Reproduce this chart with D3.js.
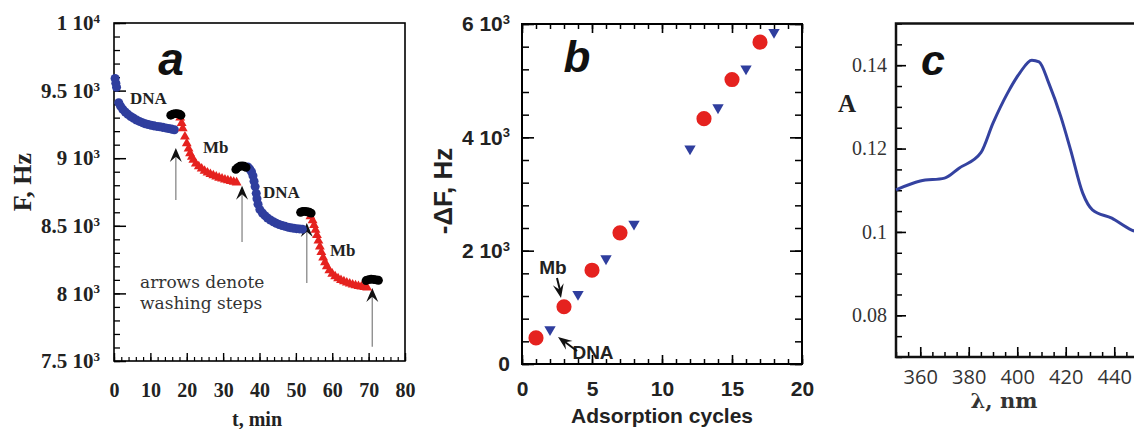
<!DOCTYPE html>
<html><head><meta charset="utf-8">
<script src="https://cdn.jsdelivr.net/npm/d3@7"></script>
<style>body{margin:0;background:#fff}svg{display:block}</style>
</head><body>
<svg id="chart" width="1134" height="429"></svg>
<script>
// ================= DATA =================
// Panel a : frequency vs time (t in min, F in Hz)
const dna1 = [[0.3,9590],[0.5,9555],[0.7,9525],[1.3,9410],[1.8,9385],[2.4,9362],[3.1,9342],[3.8,9325],[4.6,9308],[5.4,9295],[6.2,9283],[7.0,9272],[7.8,9263],[8.6,9255],[9.4,9249],[10.2,9244],[11.0,9239],[11.8,9235],[12.6,9232],[13.4,9228],[14.2,9224],[15.0,9220],[15.8,9215],[16.6,9210]];
const mb1 = [[18.2,9300],[18.6,9260],[18.9,9221],[19.5,9160],[20.0,9110],[20.5,9070],[20.9,9036],[21.4,9010],[21.8,8987],[22.5,8960],[23.3,8940],[24.1,8922],[24.9,8906],[25.7,8893],[26.5,8882],[27.3,8872],[28.1,8863],[28.9,8855],[29.7,8848],[30.5,8842],[31.3,8836],[32.1,8830],[32.9,8825],[33.7,8820]];
const dna2 = [[36.8,8935],[37.3,8920],[37.8,8900],[38.2,8870],[38.5,8830],[38.8,8790],[39.1,8740],[39.3,8700],[39.6,8660],[40.1,8620],[40.8,8595],[41.5,8575],[42.2,8558],[43.0,8543],[43.8,8530],[44.6,8519],[45.4,8510],[46.2,8502],[47.0,8496],[47.8,8490],[48.6,8486],[49.4,8482],[50.2,8479],[51.0,8477],[51.8,8475]];
const mb2 = [[54.0,8570],[54.6,8540],[55.0,8505],[55.4,8470],[55.8,8430],[56.2,8390],[56.6,8345],[57.0,8305],[57.5,8265],[58.0,8230],[58.5,8200],[59.2,8170],[60.0,8145],[60.8,8125],[61.6,8110],[62.4,8098],[63.2,8088],[64.0,8080],[64.8,8072],[65.6,8065],[66.4,8059],[67.2,8054],[68.0,8050],[68.8,8046],[69.6,8042]];
const wash = [[15.6,9318],[16.2,9326],[16.8,9330],[17.4,9330],[18.0,9325],[18.4,9318],
              [33.5,8917],[34.0,8930],[34.6,8940],[35.2,8943],[35.8,8940],[36.3,8932],
              [51.3,8600],[51.9,8606],[52.5,8607],[53.1,8604],[53.7,8600],[54.2,8594],
              [69.3,8095],[70.0,8102],[70.7,8105],[71.4,8103],[72.1,8100],[72.7,8097]];
const arrowT = [17, 35.2, 53, 71];
const arrowFrom = [8690, 8380, 8077, 7606];
const arrowTo = [9075, 8797, 8521, 8040];
const yTickValsA = [7500,8000,8500,9000,9500,10000];
const yTickBaseA = ["7.5 10","8 10","8.5 10","9 10","9.5 10","1 10"];
const yTickExpA = ["3","3","3","3","3","4"];
const xTickValsA = [0,10,20,30,40,50,60,70,80];

// Panel b : -dF vs adsorption cycles
const cyclesMb = [1,3,5,7,13,15,17];
const dfMb = [460,1010,1655,2315,4330,5020,5680];
const cyclesDNA = [2,4,6,8,12,14,16,18];
const dfDNA = [610,1230,1860,2470,3800,4525,5210,5855];
const yTickValsB = [0,2000,4000,6000];
const yTickBaseB = ["0","2 10","4 10","6 10"];
const yTickExpB = ["","3","3","3"];
const xTickValsB = [0,5,10,15,20];

// Panel c : absorbance spectrum
const lambda = [350,360,370,376,385,390,396,401,406,409,413,418,422,427,431,439,447,452];
const absorb = [0.1101,0.1122,0.1129,0.1153,0.1190,0.1261,0.1333,0.1381,0.1412,0.1408,0.1357,0.1276,0.1197,0.1093,0.1053,0.1033,0.1005,0.0995];
const yTickValsC = [0.08,0.10,0.12,0.14];
const yTickLabC = ["0.08","0.1","0.12","0.14"];
const xTickValsC = [360,380,400,420,440];

// ================= DRAW =================
const svg = d3.select("#chart");
const BLUE = "#2f3e9e", RED = "#e5221f";
const SERIF = "'Liberation Serif', 'Times New Roman', serif";
const SANS = "'Liberation Sans', Arial, sans-serif";

function clean(g, sw){
  g.select(".domain").remove();
  g.selectAll(".tick line").attr("stroke","#000").attr("stroke-width",sw);
  return g;
}
function supText(g, vals, bases, exps, supSize){
  g.selectAll(".tick text").each(function(d){
    const i = vals.indexOf(d);
    const t = d3.select(this); t.text(null);
    t.append("tspan").text(bases[i]);
    if (exps[i]) t.append("tspan").attr("dy","-0.55em").attr("font-size",supSize).text(exps[i]);
  });
}
function stealth(g, x1, y1, x2, y2, len, half, color){
  const ang = Math.atan2(y2-y1, x2-x1)*180/Math.PI;
  g.append("path")
    .attr("d",`M0,0 L${-len},${-half} L${-len*0.62},0 L${-len},${half} Z`)
    .attr("transform",`translate(${x2},${y2}) rotate(${ang})`)
    .attr("fill",color);
}

// ---------- Panel a ----------
const xA = d3.scaleLinear().domain([0,80]).range([114,405]);
const yA = d3.scaleLinear().domain([7500,10000]).range([361,23]);
const gA = svg.append("g");

clean(gA.append("g").attr("transform","translate(114,0)")
  .call(d3.axisLeft(yA).tickValues(d3.range(7500,10001,100)).tickSize(-6).tickFormat("")),1.3);
const yAxA = clean(gA.append("g").attr("transform","translate(114,0)")
  .call(d3.axisLeft(yA).tickValues(yTickValsA).tickSize(-12).tickPadding(14)),1.5);
yAxA.attr("font-family",SERIF).attr("font-size",21).attr("font-weight","bold");
yAxA.selectAll("text").attr("fill","#222");
supText(yAxA, yTickValsA, yTickBaseA, yTickExpA, 13);

clean(gA.append("g").attr("transform","translate(0,361)")
  .call(d3.axisBottom(xA).tickValues(d3.range(0,81,2)).tickSize(-4).tickFormat("")),1.2);
const xAxA = clean(gA.append("g").attr("transform","translate(0,361)")
  .call(d3.axisBottom(xA).tickValues(xTickValsA).tickSize(-8).tickPadding(22)),1.4);
xAxA.attr("font-family",SERIF).attr("font-size",20).attr("font-weight","bold");
xAxA.selectAll("text").attr("fill","#222");

gA.append("rect").attr("x",114).attr("y",23).attr("width",405-114).attr("height",361-23)
  .attr("fill","none").attr("stroke","#000").attr("stroke-width",1.6);

// arrows (washing steps)
arrowT.forEach((t,i)=>{
  gA.append("line").attr("x1",xA(t)).attr("x2",xA(t)).attr("y1",yA(arrowFrom[i])).attr("y2",yA(arrowTo[i])+6)
    .attr("stroke","#888").attr("stroke-width",1.3);
  stealth(gA, xA(t), yA(arrowFrom[i]), xA(t), yA(arrowTo[i]), 14, 6, "#111");
});

const circ = d3.symbol(d3.symbolCircle, 64);
const tri = d3.symbol(d3.symbolTriangle, 42);
function dots(data, sym, color){
  gA.append("g").selectAll("path").data(data).join("path")
    .attr("d", sym).attr("fill", color)
    .attr("transform", d=>`translate(${xA(d[0])},${yA(d[1])})`);
}
dots(dna1, circ, BLUE);
dots(dna2, circ, BLUE);
dots(mb1, tri, RED);
dots(mb2, tri, RED);
dots(wash, d3.symbol(d3.symbolCircle, 62), "#000");

const labA = gA.append("g").attr("font-family",SERIF).attr("font-weight","bold").attr("font-size",17).attr("fill","#222");
labA.append("text").attr("x",130).attr("y",104).text("DNA");
labA.append("text").attr("x",203).attr("y",153).text("Mb");
labA.append("text").attr("x",263).attr("y",198).text("DNA");
labA.append("text").attr("x",330).attr("y",256).text("Mb");

const noteA = gA.append("g").attr("font-family","'DejaVu Serif', serif").attr("font-size",17).attr("fill","#333");
noteA.append("text").attr("x",140).attr("y",288).text("arrows denote");
noteA.append("text").attr("x",140).attr("y",309).text("washing steps");

gA.append("text").attr("x",171).attr("y",75).attr("text-anchor","middle")
  .attr("font-family",SANS).attr("font-weight","bold").attr("font-style","italic").attr("font-size",46).attr("fill","#111").text("a");
gA.append("text").attr("transform","translate(31,182) rotate(-90)").attr("text-anchor","middle")
  .attr("font-family",SERIF).attr("font-weight","bold").attr("font-size",26).attr("fill","#222").text("F, Hz");
gA.append("text").attr("x",257).attr("y",426).attr("text-anchor","middle")
  .attr("font-family",SERIF).attr("font-weight","bold").attr("font-size",20).attr("fill","#222").text("t, min");

// ---------- Panel b ----------
const xB = d3.scaleLinear().domain([0,20]).range([522,802]);
const yB = d3.scaleLinear().domain([0,6000]).range([364,24]);
const gB = svg.append("g");

[["L",522],["R",802]].forEach(([s,x])=>{
  const ax = s==="L" ? d3.axisLeft : d3.axisRight;
  clean(gB.append("g").attr("transform",`translate(${x},0)`)
    .call(ax(yB).tickValues(d3.range(0,6001,400)).tickSize(-7).tickFormat("")),1.5);
  clean(gB.append("g").attr("transform",`translate(${x},0)`)
    .call(ax(yB).tickValues(yTickValsB).tickSize(-12).tickFormat("")),1.6);
});
[["B",364],["T",24]].forEach(([s,y])=>{
  const ax = s==="B" ? d3.axisBottom : d3.axisTop;
  clean(gB.append("g").attr("transform",`translate(0,${y})`)
    .call(ax(xB).tickValues(d3.range(0,21,1)).tickSize(-5).tickFormat("")),1.5);
  clean(gB.append("g").attr("transform",`translate(0,${y})`)
    .call(ax(xB).tickValues(xTickValsB).tickSize(-9).tickFormat("")),1.6);
});
const yAxB = clean(gB.append("g").attr("transform","translate(522,0)")
  .call(d3.axisLeft(yB).tickValues(yTickValsB).tickSize(0).tickPadding(12)),1);
yAxB.attr("font-family",SANS).attr("font-size",21).attr("font-weight","bold");
yAxB.selectAll("text").attr("fill","#222");
supText(yAxB, yTickValsB, yTickBaseB, yTickExpB, 13);
const xAxB = clean(gB.append("g").attr("transform","translate(0,364)")
  .call(d3.axisBottom(xB).tickValues(xTickValsB).tickSize(0).tickPadding(17)),1);
xAxB.attr("font-family",SANS).attr("font-size",21).attr("font-weight","bold");
xAxB.selectAll("text").attr("fill","#222");

gB.append("rect").attr("x",522).attr("y",24).attr("width",802-522).attr("height",364-24)
  .attr("fill","none").attr("stroke","#000").attr("stroke-width",2);

gB.append("g").selectAll("path").data(cyclesMb).join("path")
  .attr("d", d3.symbol(d3.symbolCircle, 180)).attr("fill",RED)
  .attr("transform",(d,i)=>`translate(${xB(d)},${yB(dfMb[i])})`);
gB.append("g").selectAll("path").data(cyclesDNA).join("path")
  .attr("d", d3.symbol(d3.symbolTriangle, 56)).attr("fill",BLUE)
  .attr("transform",(d,i)=>`translate(${xB(d)},${yB(dfDNA[i])}) rotate(180)`);

const labB = gB.append("g").attr("font-family",SANS).attr("font-weight","bold").attr("font-size",19).attr("fill","#222");
labB.append("text").attr("x",553).attr("y",274).attr("text-anchor","middle").text("Mb");
labB.append("text").attr("x",593).attr("y",359).attr("text-anchor","middle").text("DNA");
gB.append("line").attr("x1",557).attr("y1",278).attr("x2",560).attr("y2",290).attr("stroke","#111").attr("stroke-width",2);
stealth(gB, 557, 278, 561, 298, 14, 5.5, "#111");
gB.append("line").attr("x1",577).attr("y1",351).attr("x2",565).attr("y2",342).attr("stroke","#111").attr("stroke-width",2);
stealth(gB, 577, 351, 558, 337, 14, 5.5, "#111");

gB.append("text").attr("x",577).attr("y",72).attr("text-anchor","middle")
  .attr("font-family",SANS).attr("font-weight","bold").attr("font-style","italic").attr("font-size",44).attr("fill","#111").text("b");
gB.append("text").attr("transform","translate(452,191) rotate(-90)").attr("text-anchor","middle")
  .attr("font-family",SANS).attr("font-weight","bold").attr("font-size",26).attr("fill","#222").text("-\u0394F, Hz");
gB.append("text").attr("x",662).attr("y",423).attr("text-anchor","middle")
  .attr("font-family",SANS).attr("font-weight","bold").attr("font-size",21).attr("fill","#222").text("Adsorption cycles");

// ---------- Panel c ----------
const xC = d3.scaleLinear().domain([350,460]).range([896,1162.75]);
const yC = d3.scaleLinear().domain([0.07,0.15]).range([357,23.5]);
const gC = svg.append("g");

clean(gC.append("g").attr("transform","translate(896,0)")
  .call(d3.axisLeft(yC).tickValues(d3.range(0,17).map(i=>0.07+i*0.005)).tickSize(-6).tickFormat("")),1.5);
const yAxC = clean(gC.append("g").attr("transform","translate(896,0)")
  .call(d3.axisLeft(yC).tickValues(yTickValsC).tickSize(-10).tickPadding(9).tickFormat((d,i)=>yTickLabC[i])),1.6);
yAxC.attr("font-family",SERIF).attr("font-size",20);
yAxC.selectAll("text").attr("fill","#333");

clean(gC.append("g").attr("transform","translate(0,357)")
  .call(d3.axisBottom(xC).tickValues(d3.range(350,461,5)).tickSize(-5).tickFormat("")),1.5);
clean(gC.append("g").attr("transform","translate(0,357)")
  .call(d3.axisBottom(xC).tickValues([460]).tickSize(-10).tickFormat("")),1.6);
const xAxC = clean(gC.append("g").attr("transform","translate(0,357)")
  .call(d3.axisBottom(xC).tickValues(xTickValsC).tickSize(-10).tickPadding(13)),1.6);
xAxC.attr("font-family","'Open Sans', sans-serif").attr("font-size",20);
xAxC.selectAll("text").attr("fill","#333");

gC.append("path").attr("d",`M${xC(460)},23.5 H896 V357 H${xC(460)}`)
  .attr("fill","none").attr("stroke","#111").attr("stroke-width",2.5);

gC.append("path").datum(lambda.map((l,i)=>[l,absorb[i]]))
  .attr("d", d3.line().x(d=>xC(d[0])).y(d=>yC(d[1])).curve(d3.curveMonotoneX))
  .attr("fill","none").attr("stroke","#3442a0").attr("stroke-width",3).attr("stroke-linejoin","round");

gC.append("text").attr("x",933).attr("y",75).attr("text-anchor","middle")
  .attr("font-family",SANS).attr("font-weight","bold").attr("font-style","italic").attr("font-size",43).attr("fill","#111").text("c");
gC.append("text").attr("x",847).attr("y",112).attr("text-anchor","middle")
  .attr("font-family",SERIF).attr("font-weight","bold").attr("font-size",25).attr("fill","#222").text("A");
gC.append("text").attr("x",1004).attr("y",408).attr("text-anchor","middle")
  .attr("font-family","'DejaVu Serif', serif").attr("font-weight","bold").attr("font-size",21).attr("fill","#333").text("\u03bb, nm");
</script>
</body></html>
